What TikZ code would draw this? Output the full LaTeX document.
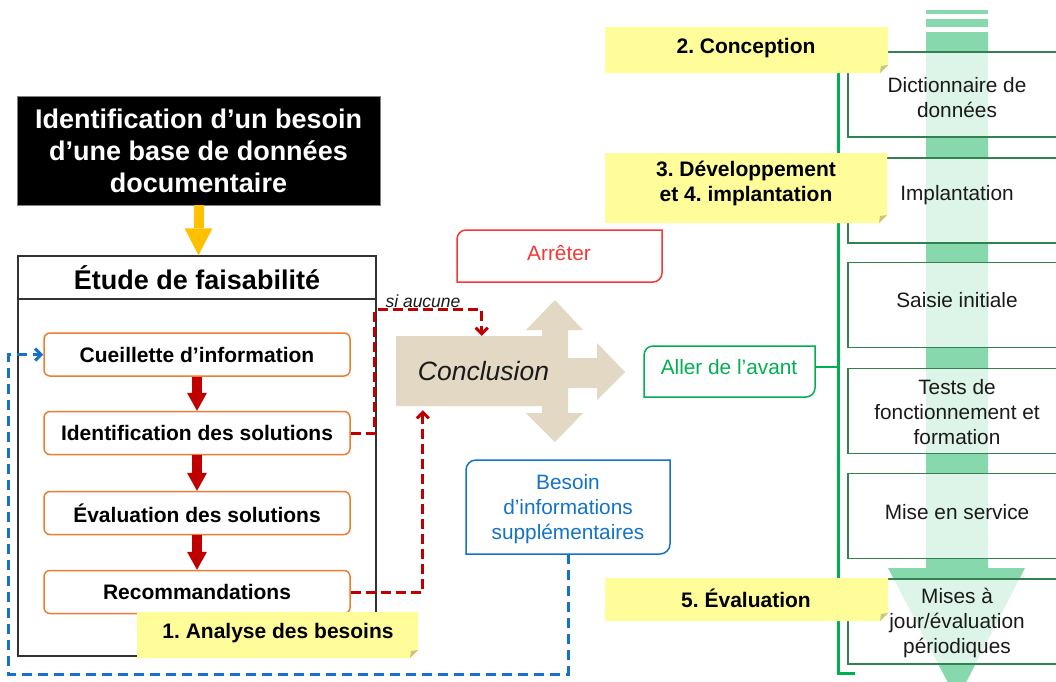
\documentclass[tikz,border=0pt]{standalone}
\usepackage{fontspec}
\setmainfont{Liberation Sans}
\frenchspacing
\usetikzlibrary{arrows.meta,calc}
\definecolor{clYellow}{RGB}{255,192,0}
\definecolor{clRed}{RGB}{192,0,0}
\definecolor{clOrange}{RGB}{237,125,49}
\definecolor{clTan}{RGB}{226,216,196}
\definecolor{clStop}{RGB}{245,55,55}
\definecolor{clGo}{RGB}{0,176,80}
\definecolor{clBlue}{RGB}{20,115,200}
\definecolor{clNote}{RGB}{255,253,153}
\definecolor{clFold}{RGB}{200,198,120}
\definecolor{clArrowGreen}{RGB}{136,216,173}
\definecolor{clBoxGreen}{RGB}{50,130,80}
\definecolor{clText}{RGB}{26,26,26}
\definecolor{clFrame}{RGB}{50,50,50}
\newcommand\mydiagbox[6]{%
  \draw[#6] (#3,#2) -- (#3,#4-#5) .. controls (#3,#4-0.45*#5) and (#3-0.45*#5,#4) .. (#3-#5,#4)
    -- (#1,#4) -- (#1,#2+#5) .. controls (#1,#2+0.45*#5) and (#1+0.45*#5,#2) .. (#1+#5,#2) -- cycle;}
\newcommand\mynote[4]{%
  \fill[clNote] (#1,#2) -- (#3,#2) -- (#3,#4-8) -- (#3-8,#4) -- (#1,#4) -- cycle;
  \fill[clFold] (#3,#4-8) -- (#3-8,#4) -- (#3-7,#4-7) -- cycle;}
\tikzset{
  bigtitle/.style={font=\fontsize{27}{32}\selectfont\bfseries},
  lbl/.style={font=\fontsize{21}{25}\selectfont\bfseries, text=black},
  reg/.style={font=\fontsize{20.8}{25}\selectfont},
  stepbox/.style={draw=clOrange, line width=1.5pt, rounded corners=6pt, fill=white,
    minimum width=306pt, minimum height=43pt, inner sep=0pt, lbl},
  fatred/.style={draw=clRed, line width=10pt, -{Triangle[width=20pt,length=18pt,line width=0pt]}},
  reddash/.style={draw=clRed, line width=3pt, dash pattern=on 10pt off 5pt},
  bluedash/.style={draw=clBlue, line width=3pt, dash pattern=on 10pt off 6pt},
  openhead/.style={-{Straight Barb[length=6pt,width=12pt]}},
  phasebox/.style={draw=clBoxGreen, line width=1.5pt, fill=white, fill opacity=0.72,
    minimum width=218pt, minimum height=85pt, inner sep=0pt},
  phasetxt/.style={reg, text=clText, align=center},
  emptybox/.style={inner sep=0pt, draw=none},
}
\begin{document}
\begin{tikzpicture}[x=1pt,y=-1pt]
\useasboundingbox (0,0) rectangle (1056,681);
\fill[white] (0,0) rectangle (1056,681);
\begin{scope}
\clip (0,0) rectangle (1056,681);
% big green arrow
\fill[clArrowGreen] (926,10) rectangle (988,14);
\fill[clArrowGreen] (926,19) rectangle (988,27);
\fill[clArrowGreen] (926,32) -- (988,32) -- (988,568) -- (1025,568) -- (957,700) -- (888,568) -- (926,568) -- cycle;
% phase boxes
\node[phasebox] (p1) at (957,94.5) {};
\node[phasebox] (p2) at (957,200.5) {};
\node[phasebox] (p3) at (957,305) {};
\node[phasebox] (p4) at (957,411) {};
\node[phasebox] (p5) at (957,516) {};
\node[phasebox] (p6) at (957,621.5) {};
\end{scope}
\node[phasetxt] (t1) at (957,97.5) {Dictionnaire de\\données};
\node[phasetxt] (t2) at (957,195) {Implantation};
\node[phasetxt] (t3) at (957,300) {Saisie initiale};
\node[phasetxt] (t4) at (957,412) {Tests de\\fonctionnement et\\formation};
\node[phasetxt] (t5) at (957,512) {Mise en service};
\node[phasetxt] (t6) at (957,623) {Mises à\\jour/évaluation\\périodiques};
% green bracket
\coordinate (brktop) at (855,50);
\coordinate (brkbot) at (855,673);
\coordinate (brk) at (838,367);
\draw[clGo, line width=3pt] (brktop) -- (838,50) -- (838,673) -- (brkbot);

% need box
\node[fill=black, draw=gray, line width=0.8pt, minimum width=363pt, minimum height=109pt,
  text=white, align=center, bigtitle] (need) at (198.5,150.5)
  {Identification d’un besoin\\d’une base de données\\documentaire};
% etude
\node[draw=clFrame, line width=1.5pt, minimum width=358pt, minimum height=400pt, inner sep=0pt] (etude) at (197,456) {};
\node[draw=clFrame, line width=1.5pt, minimum width=358pt, minimum height=43pt, inner sep=0pt, bigtitle] (etudet) at (197,277.5) {Étude de faisabilité};
\draw[line width=10pt, clYellow, -{Triangle[width=28pt,length=27pt,line width=0pt]}] (need.south) -- (need.south |- etudet.north);
% steps
\node[stepbox] (s1) at (197,354.5) {Cueillette d’information};
\node[stepbox] (s2) at (197,433) {Identification des solutions};
\node[stepbox] (s3) at (197,513) {Évaluation des solutions};
\node[stepbox] (s4) at (197,592) {Recommandations};
\draw[fatred] (s1.south) -- (s2.north);
\draw[fatred] (s2.south) -- (s3.north);
\draw[fatred] (s3.south) -- (s4.north);

% conclusion shape
\fill[clTan] (396,336) -- (542,336) -- (542,330) -- (526,330) -- (555,300) -- (583,330) -- (568,330)
  -- (568,358) -- (597,358) -- (597,343) -- (625,372) -- (597,400) -- (597,388) -- (568,388)
  -- (568,413) -- (583,413) -- (555,442) -- (526,413) -- (542,413) -- (542,406) -- (396,406) -- cycle;
\node[emptybox, minimum width=146pt, minimum height=70pt] (concl) at (469,371) {};
\node[font=\fontsize{26.5}{30}\selectfont\itshape, text=clText] (concltxt) at (483.5,371) {Conclusion};

% red dashed feedback
\draw[reddash, openhead] (s2.east) -- ++(24,0) |- ($(concl.north west)+(86,-26)$) -- ($(concl.north west)+(86,0)$);
\draw[reddash, openhead] (s4.east) -| ($(concl.south west)+(27,4)$);
\node[font=\fontsize{17.5}{20}\selectfont\itshape, text=clText] (si) at (423,301) {si aucune};

% outcomes
\mydiagbox{457}{230}{662}{282}{9}{draw=clStop, line width=1.5pt}
\node[emptybox, minimum width=205pt, minimum height=52pt] (stop) at (559.5,256) {};
\node[reg, text=clStop] (stoplbl) at (559,253) {Arrêter};

\mydiagbox{644}{346}{815}{397}{9}{draw=clGo, line width=1.5pt}
\node[emptybox, minimum width=171pt, minimum height=51pt] (go) at (729.5,371.5) {};
\node[reg, text=clGo] (golbl) at (729,367) {Aller de l’avant};
\draw[clGo, line width=2.5pt] (go.east |- golbl) -- (brk);

\mydiagbox{466}{460}{670}{554}{10}{draw=clBlue, line width=1.5pt}
\node[emptybox, minimum width=204pt, minimum height=94pt] (info) at (568,507) {};
\node[reg, text=clBlue, align=center] (infolbl) at (568,509) {Besoin\\d’informations\\supplémentaires};
\draw[bluedash, openhead] (info.south) -- ($(info.south)+(0,120)$) -| ($(s1.west)+(-35,0)$) -- (s1.west);

% notes
\mynote{605}{27}{888}{73}
\node[lbl] (n2) at (746,48) {2. Conception};
\mynote{605}{153}{887}{223}
\node[lbl, align=center] (n3) at (746,183) {3. Développement\\et 4. implantation};
\mynote{605}{578}{888}{621}
\node[lbl] (n5) at (746,598) {5. Évaluation};
\mynote{137}{612}{418}{658}
\node[lbl] (n1) at (278,633) {1. Analyse des besoins};
\end{tikzpicture}
\end{document}
